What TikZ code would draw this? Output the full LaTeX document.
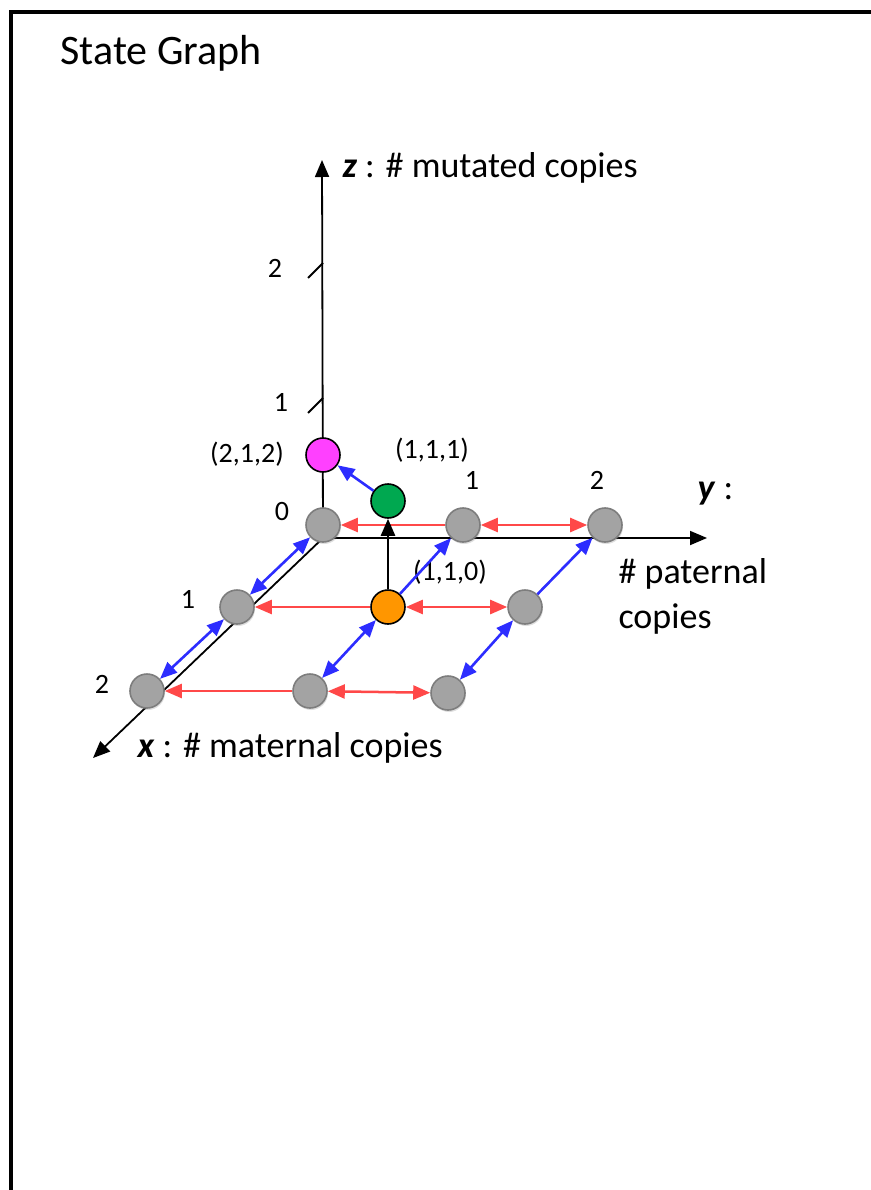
\documentclass[tikz,border=0pt]{standalone}
\usepackage{fontspec}
\setmainfont{Carlito}
\usepackage{xcolor}
\usetikzlibrary{arrows.meta,shadows}

\definecolor{stgray}{RGB}{163,163,163}
\definecolor{stgrayline}{RGB}{125,125,125}
\definecolor{storange}{RGB}{255,150,0}
\definecolor{stgreen}{RGB}{0,168,80}
\definecolor{stmagenta}{RGB}{255,64,255}
\definecolor{stred}{RGB}{255,72,72}
\definecolor{stblue}{RGB}{45,45,255}

\tikzset{
  state/.style={circle,minimum size=34pt,inner sep=0pt,line width=1.6pt},
  greystate/.style={state,fill=stgray,draw=stgrayline,
    drop shadow={opacity=0.25,shadow xshift=1pt,shadow yshift=-2pt}},
  colstate/.style={state,draw=black,fill=#1},
  tri/.tip={Triangle[length=17pt,width=14pt]},
  axis/.style={line width=1.8pt,-tri},
  redline/.style={draw=stred,line width=2.5pt},
  blueline/.style={draw=stblue,line width=2.6pt},
  blackline/.style={draw=black,line width=2.6pt},
  small/.style={font=\fontsize{28}{32}\selectfont},
  big/.style={font=\fontsize{36}{45}\selectfont}
}

\begin{document}
\begin{tikzpicture}[x=1pt,y=-1pt]
  \useasboundingbox (0,0) rectangle (870,1190);
  % frame
  \draw[line width=4pt] (10.5,1195) -- (10.5,12) -- (875,12);
  \node[anchor=base west,font=\fontsize{42}{48}\selectfont] (title) at (57,65) {State Graph};

  % axes
  \coordinate (O) at (323,538);
  \coordinate (xtip) at (93,758);
  \coordinate (ytip) at (707,538);
  \coordinate (ztip) at (322,160);
  \draw[axis] (O) -- (xtip);
  \draw[axis] (O) -- (ytip);
  \draw[axis] (O) -- (ztip);
  \draw[line width=1.8pt] (308,278) -- (323,263);
  \draw[line width=1.8pt] (308,413) -- (323,398);

  % axis labels
  \node[big,anchor=base west] (zlab) at (339,178) {\textbf{\textit{z}} : \# mutated copies};
  \node[big,anchor=base west] (xlab) at (134,757) {\textbf{\textit{x}} : \# maternal copies};
  \node[big,anchor=base west] (ylab) at (694,499) {\textbf{\textit{y}} :};
  \node[big,anchor=base west,align=left] (ytxt) at (615,628) {\# paternal\\copies};

  % tick labels
  \node[small] (z2) at (275,268) {2};
  \node[small] (z1) at (281,402) {1};
  \node[small] (z0) at (282,512) {0};
  \node[small] (y1) at (472,480) {1};
  \node[small] (y2) at (597,480) {2};
  \node[small] (x1) at (188,599) {1};
  \node[small] (x2) at (102,684) {2};

  % states
  \node[greystate] (s00) at (323,525) {};
  \node[greystate] (s01) at (463,525) {};
  \node[greystate] (s02) at (605,525) {};
  \node[greystate] (s10) at (237,607) {};
  \node[colstate=storange] (s11) at (388,607) {};
  \node[greystate] (s12) at (525,607) {};
  \node[greystate] (s20) at (147,691) {};
  \node[greystate] (s21) at (310,691) {};
  \node[greystate] (s22) at (448,693) {};
  \node[colstate=stgreen] (s111) at (388,501) {};
  \node[colstate=stmagenta] (s212) at (323,455) {};

  % state labels
  \node[small,anchor=base] (l212) at (247,462) {(2,1,2)};
  \node[small,anchor=base] (l111) at (432,458) {(1,1,1)};
  \node[small,anchor=base] (l110) at (450,580) {(1,1,0)};

  % transitions
  \draw[redline,-tri] (s01) -- (s00);
  \draw[redline,tri-tri] (s01) -- (s02);
  \draw[redline,-tri] (s11) -- (s10);
  \draw[redline,tri-tri] (s11) -- (s12);
  \draw[redline,-tri] (s21) -- (s20);
  \draw[redline,tri-tri] (s21) -- (s22);
  \draw[blueline,tri-tri] (s10) -- (s00);
  \draw[blueline,tri-tri] (s20) -- (s10);
  \draw[blueline,tri-tri] (s21) -- (s11);
  \draw[blueline,-tri] (s11) -- (s01);
  \draw[blueline,tri-tri] (s22) -- (s12);
  \draw[blueline,-tri] (s12) -- (s02);
  \draw[blueline,-tri] (s111) -- (s212);
  \draw[blackline,-tri] (s11) -- (s111);
\end{tikzpicture}
\end{document}
